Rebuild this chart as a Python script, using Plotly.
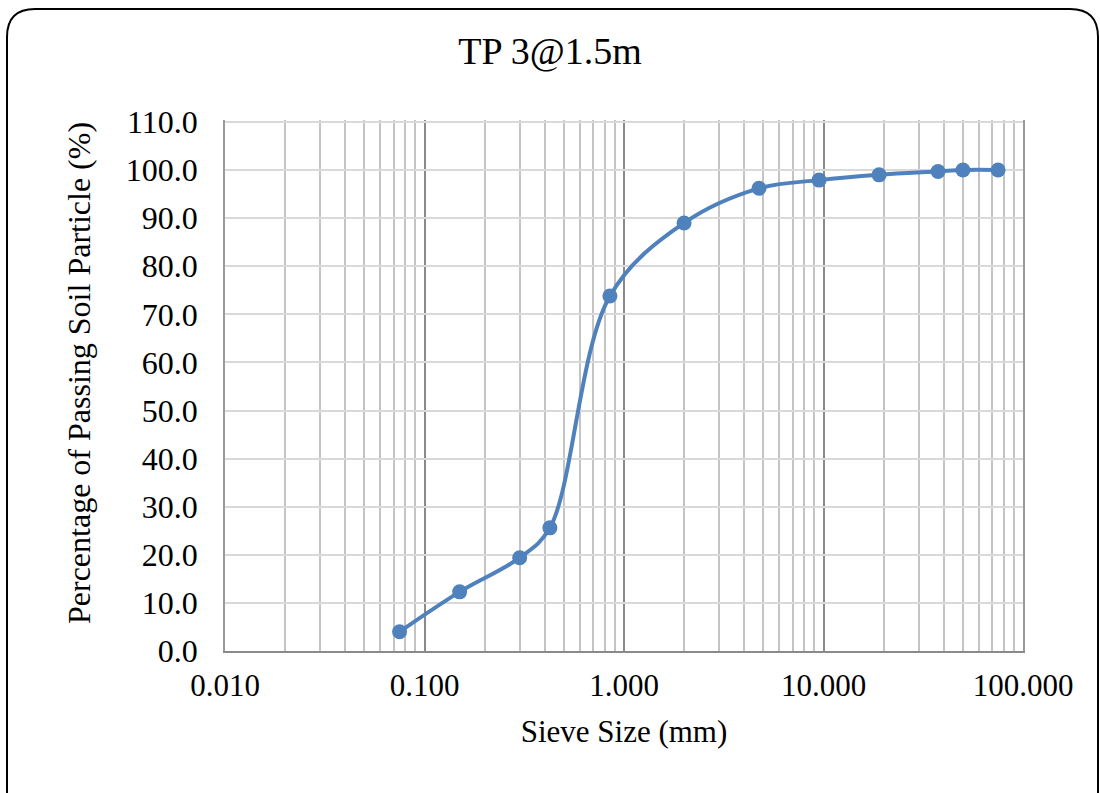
import plotly.graph_objects as go

# Sieve analysis results
sieve_mm = [0.075, 0.15, 0.3, 0.425, 0.85, 2.0, 4.75, 9.5, 19.0, 37.5, 50.0, 75.0]
passing_pct = [4.0, 12.3, 19.4, 25.6, 73.8, 89.0, 96.2, 97.9, 99.0, 99.7, 100.0, 100.0]

x_major = [0.01, 0.1, 1, 10, 100]
x_major_text = ["0.010", "0.100", "1.000", "10.000", "100.000"]
x_minor = [m * d for d in (0.01, 0.1, 1, 10) for m in range(2, 10)]
y_ticks = list(range(0, 111, 10))
y_tick_text = [f"{v:.1f}" for v in y_ticks]

BLUE = "#4f81bd"
FONT = "Liberation Serif, Times New Roman, serif"

W, H = 1100, 793
ML, MR, MT, MB = 225, 77, 120, 142

fig = go.Figure()
fig.add_trace(go.Scatter(
    x=sieve_mm, y=passing_pct,
    mode="lines+markers",
    line=dict(color=BLUE, width=4, shape="spline", smoothing=1.0),
    marker=dict(color=BLUE, size=15),
    showlegend=False,
))

# Helpers to place items in pixel terms via paper coordinates
pw, ph = W - ML - MR, H - MT - MB
def px(x):
    return (x - ML) / pw
def py(y):
    return (H - MB - y) / ph

# Rounded outer frame
x0, y0, x1, y1, r = 7, 9, 1098, 820, 28
frame = (
    f"M {px(x0 + r)},{py(y0)} L {px(x1 - r)},{py(y0)} "
    f"Q {px(x1)},{py(y0)} {px(x1)},{py(y0 + r)} "
    f"L {px(x1)},{py(y1 - r)} Q {px(x1)},{py(y1)} {px(x1 - r)},{py(y1)} "
    f"L {px(x0 + r)},{py(y1)} Q {px(x0)},{py(y1)} {px(x0)},{py(y1 - r)} "
    f"L {px(x0)},{py(y0 + r)} Q {px(x0)},{py(y0)} {px(x0 + r)},{py(y0)} Z"
)

fig.update_layout(
    width=W, height=H,
    margin=dict(l=ML, r=MR, t=MT, b=MB),
    paper_bgcolor="white", plot_bgcolor="white",
    font=dict(family=FONT, size=31, color="black"),
    title=dict(text="TP 3@1.5m", x=0.5, xanchor="center", y=0.936, yanchor="middle",
               font=dict(family=FONT, size=38, color="black")),
    xaxis=dict(
        type="log", range=[-2, 2],
        tickvals=x_major, ticktext=x_major_text,
        showgrid=True, gridcolor="#8a8a8a", gridwidth=1.5,
        minor=dict(tickvals=x_minor, showgrid=True, gridcolor="#c4c4c4", gridwidth=1.5, ticks=""),
        showline=True, linecolor="#8a8a8a", linewidth=1.5,
        ticks="", zeroline=False,
        ticklabelstandoff=6,
        title=dict(text="Sieve Size (mm)", standoff=18, font=dict(size=31)),
        tickfont=dict(size=31),
    ),
    yaxis=dict(
        range=[0, 110.4],
        tickvals=y_ticks, ticktext=y_tick_text,
        showgrid=True, gridcolor="#d9d9d9", gridwidth=1.5,
        showline=True, mirror=True, linecolor="#9a9a9a", linewidth=1.5,
        ticks="", zeroline=False,
        tickfont=dict(size=32),
        ticklabelstandoff=19,
    ),
    annotations=[dict(
        text="Percentage of Passing Soil Particle (%)",
        xref="paper", yref="paper", x=px(79), y=py(373),
        xanchor="center", yanchor="middle", textangle=-90, showarrow=False,
        font=dict(family=FONT, size=32, color="black"),
    )],
    shapes=[dict(type="path", xref="paper", yref="paper", path=frame,
                 line=dict(color="black", width=2), layer="above")],
)

fig.write_html("out.html")
